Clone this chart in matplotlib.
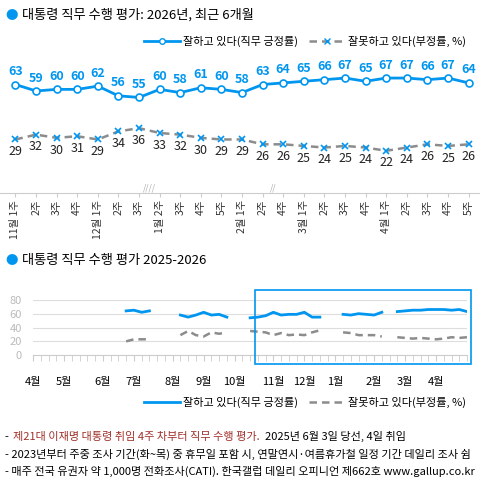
import numpy as np
import matplotlib
matplotlib.use('Agg')
import matplotlib.pyplot as plt
from matplotlib.lines import Line2D
from matplotlib.patches import Rectangle

plt.rcParams['font.family'] = ['Noto Sans CJK KR', 'DejaVu Sans']

BLUE = '#0096f0'
GREY = '#8c8c8c'

# top chart: recent 6 months
weekLabels = ['11월 1주', '2주', '3주', '4주', '12월 1주', '2주', '3주',
              '1월 2주', '3주', '4주', '5주', '2월 1주', '2주', '4주',
              '3월 1주', '2주', '3주', '4주', '4월 1주', '2주', '3주', '4주', '5주']
positive = [63, 59, 60, 60, 62, 56, 55, 60, 58, 61, 60, 58,
            63, 64, 65, 66, 67, 65, 67, 67, 66, 67, 64]
negative = [29, 32, 30, 31, 29, 34, 36, 33, 32, 30, 29, 29,
            26, 26, 25, 24, 25, 24, 22, 24, 26, 25, 26]

# bottom chart: weekly since 2025-04 (week index), gaps = no survey
monthNames = ['4월', '5월', '6월', '7월', '8월', '9월', '10월',
              '11월', '12월', '1월', '2월', '3월', '4월']
monthWeeks = [0, 4, 9, 13, 18, 22, 26, 31, 35, 39, 44, 48, 52]
segWeeks = [12, 19, 28, 40, 47]
segPos = [[64, 65, 62, 64],
          [58, 55, 58, 62, 58, 59, 55],
          [54, 55, 57, 62, 58, 59, 59, 62, 55, 55],
          [59, 58, 60, 59, 58, 62],
          [63, 64, 65, 65, 66, 66, 66, 65, 66, 63]]
segNeg = [[20, 23, 23, 23],
          [29, 35, 29, 27, 33, 31, 33],
          [35, 34, 33, 29, 32, 29, 30, 29, 33, 36],
          [33, 32, 29, 29, 29, 27],
          [26, 25, 24, 25, 24, 23, 24, 26, 25, 26]]

fig = plt.figure(figsize=(4.81, 4.82), dpi=100)

fig.text(0.012, 0.968, '●', color=BLUE, fontsize=9, va='center')
fig.text(0.045, 0.968, '대통령 직무 수행 평가: 2026년, 최근 6개월', fontsize=9.5,
         va='center', weight='medium')

ax = fig.add_axes([0.0, 0.6, 1.0, 0.285])
x = np.arange(len(positive))
ax.plot(x, positive, color=BLUE, lw=2, marker='o', ms=5, mfc='white', mec=BLUE, mew=1.2)
ax.plot(x, negative, color=GREY, lw=1.8, ls=(0, (3, 2)), marker='x', ms=4,
        mec=BLUE, mew=1.2)
for i in range(len(x)):
    ax.text(x[i], positive[i] + 4, str(positive[i]), color=BLUE, ha='center',
            va='bottom', fontsize=9, weight='bold')
    ax.text(x[i], negative[i] - 3.5, str(negative[i]), color='#222222', ha='center',
            va='top', fontsize=9)
ax.set_xlim(-0.75, 22.6)
ax.set_ylim(-4, 81)
for s in ['top', 'right', 'left']:
    ax.spines[s].set_visible(False)
ax.spines['bottom'].set_color('#cccccc')
ax.set_yticks([])
ax.set_xticks(x)
ax.set_xticklabels(weekLabels, rotation=90, fontsize=7.5, color='#333333')
ax.tick_params(axis='x', length=3, color='#cccccc', pad=2)
ax.text(6.5, -4, '////', color='#aaaaaa', fontsize=6, ha='center', va='bottom')
ax.text(12.5, -4, '//', color='#aaaaaa', fontsize=6, ha='center', va='bottom')

fig.legend(handles=[Line2D([], [], color=BLUE, lw=2, marker='o', ms=4, mfc='white'),
                    Line2D([], [], color=GREY, lw=1.8, ls=(0, (3, 2)), marker='x',
                           ms=4, mec=BLUE)],
           labels=['잘하고 있다(직무 긍정률)', '잘못하고 있다(부정률, %)'],
           loc='center right', bbox_to_anchor=(0.99, 0.915), ncol=2, frameon=False,
           fontsize=8, handlelength=3.2, columnspacing=1, handletextpad=0.3)

# bottom chart
fig.text(0.012, 0.46, '●', color=BLUE, fontsize=9, va='center')
fig.text(0.045, 0.46, '대통령 직무 수행 평가 2025-2026', fontsize=9.5,
         va='center', weight='medium')

ax2 = fig.add_axes([0.069, 0.263, 0.902, 0.115])
for w0, p, n in zip(segWeeks, segPos, segNeg):
    xs = np.arange(w0, w0 + len(p))
    ax2.plot(xs, p, color=BLUE, lw=2)
    ax2.plot(xs, n, color=GREY, lw=1.8, ls=(0, (3, 2)))
ax2.set_xlim(0, 56)
ax2.set_ylim(0, 80)
ax2.set_yticks([0, 20, 40, 60, 80])
ax2.tick_params(axis='y', length=0, labelsize=8, labelcolor='#bbbbbb', pad=8)
ax2.grid(axis='y', color='#dddddd', lw=0.8)
for s in ['top', 'right', 'left']:
    ax2.spines[s].set_visible(False)
ax2.spines['bottom'].set_color('#cccccc')
ax2.set_xticks(np.arange(0, 57), minor=True)
ax2.set_xticks(monthWeeks)
ax2.set_xticklabels(monthNames, fontsize=8)
ax2.tick_params(axis='x', which='both', length=4, color='#cccccc', pad=12)
fig.add_artist(Rectangle((0.53, 0.245), 0.45, 0.153, transform=fig.transFigure,
                         fill=False, ec=BLUE, lw=1.2))

fig.legend(handles=[Line2D([], [], color=BLUE, lw=2),
                    Line2D([], [], color=GREY, lw=1.8, ls=(0, (3, 2)))],
           labels=['잘하고 있다(직무 긍정률)', '잘못하고 있다(부정률, %)'],
           loc='center right', bbox_to_anchor=(0.99, 0.165), ncol=2, frameon=False,
           fontsize=8, handlelength=3.2, columnspacing=1, handletextpad=0.3)

fs = 8.0
fig.text(0.01, 0.094, '- ', fontsize=fs, va='center')
red = fig.text(0.028, 0.094, '제21대 이재명 대통령 취임 4주 차부터 직무 수행 평가.',
               color='#a0302a', fontsize=fs, va='center')
fig.canvas.draw()
bb = red.get_window_extent().transformed(fig.transFigure.inverted())
fig.text(bb.x1 + 0.01, 0.094, '2025년 6월 3일 당선, 4일 취임', fontsize=fs, va='center')
fig.text(0.01, 0.058, '- 2023년부터 주중 조사 기간(화~목) 중 휴무일 포함 시, 연말연시·여름휴가철 일정 기간 데일리 조사 쉼',
         fontsize=fs, va='center')
fig.text(0.01, 0.022, '- 매주 전국 유권자 약 1,000명 전화조사(CATI). 한국갤럽 데일리 오피니언 제662호 www.gallup.co.kr',
         fontsize=fs, va='center')

fig.savefig('out.png', dpi=100)
